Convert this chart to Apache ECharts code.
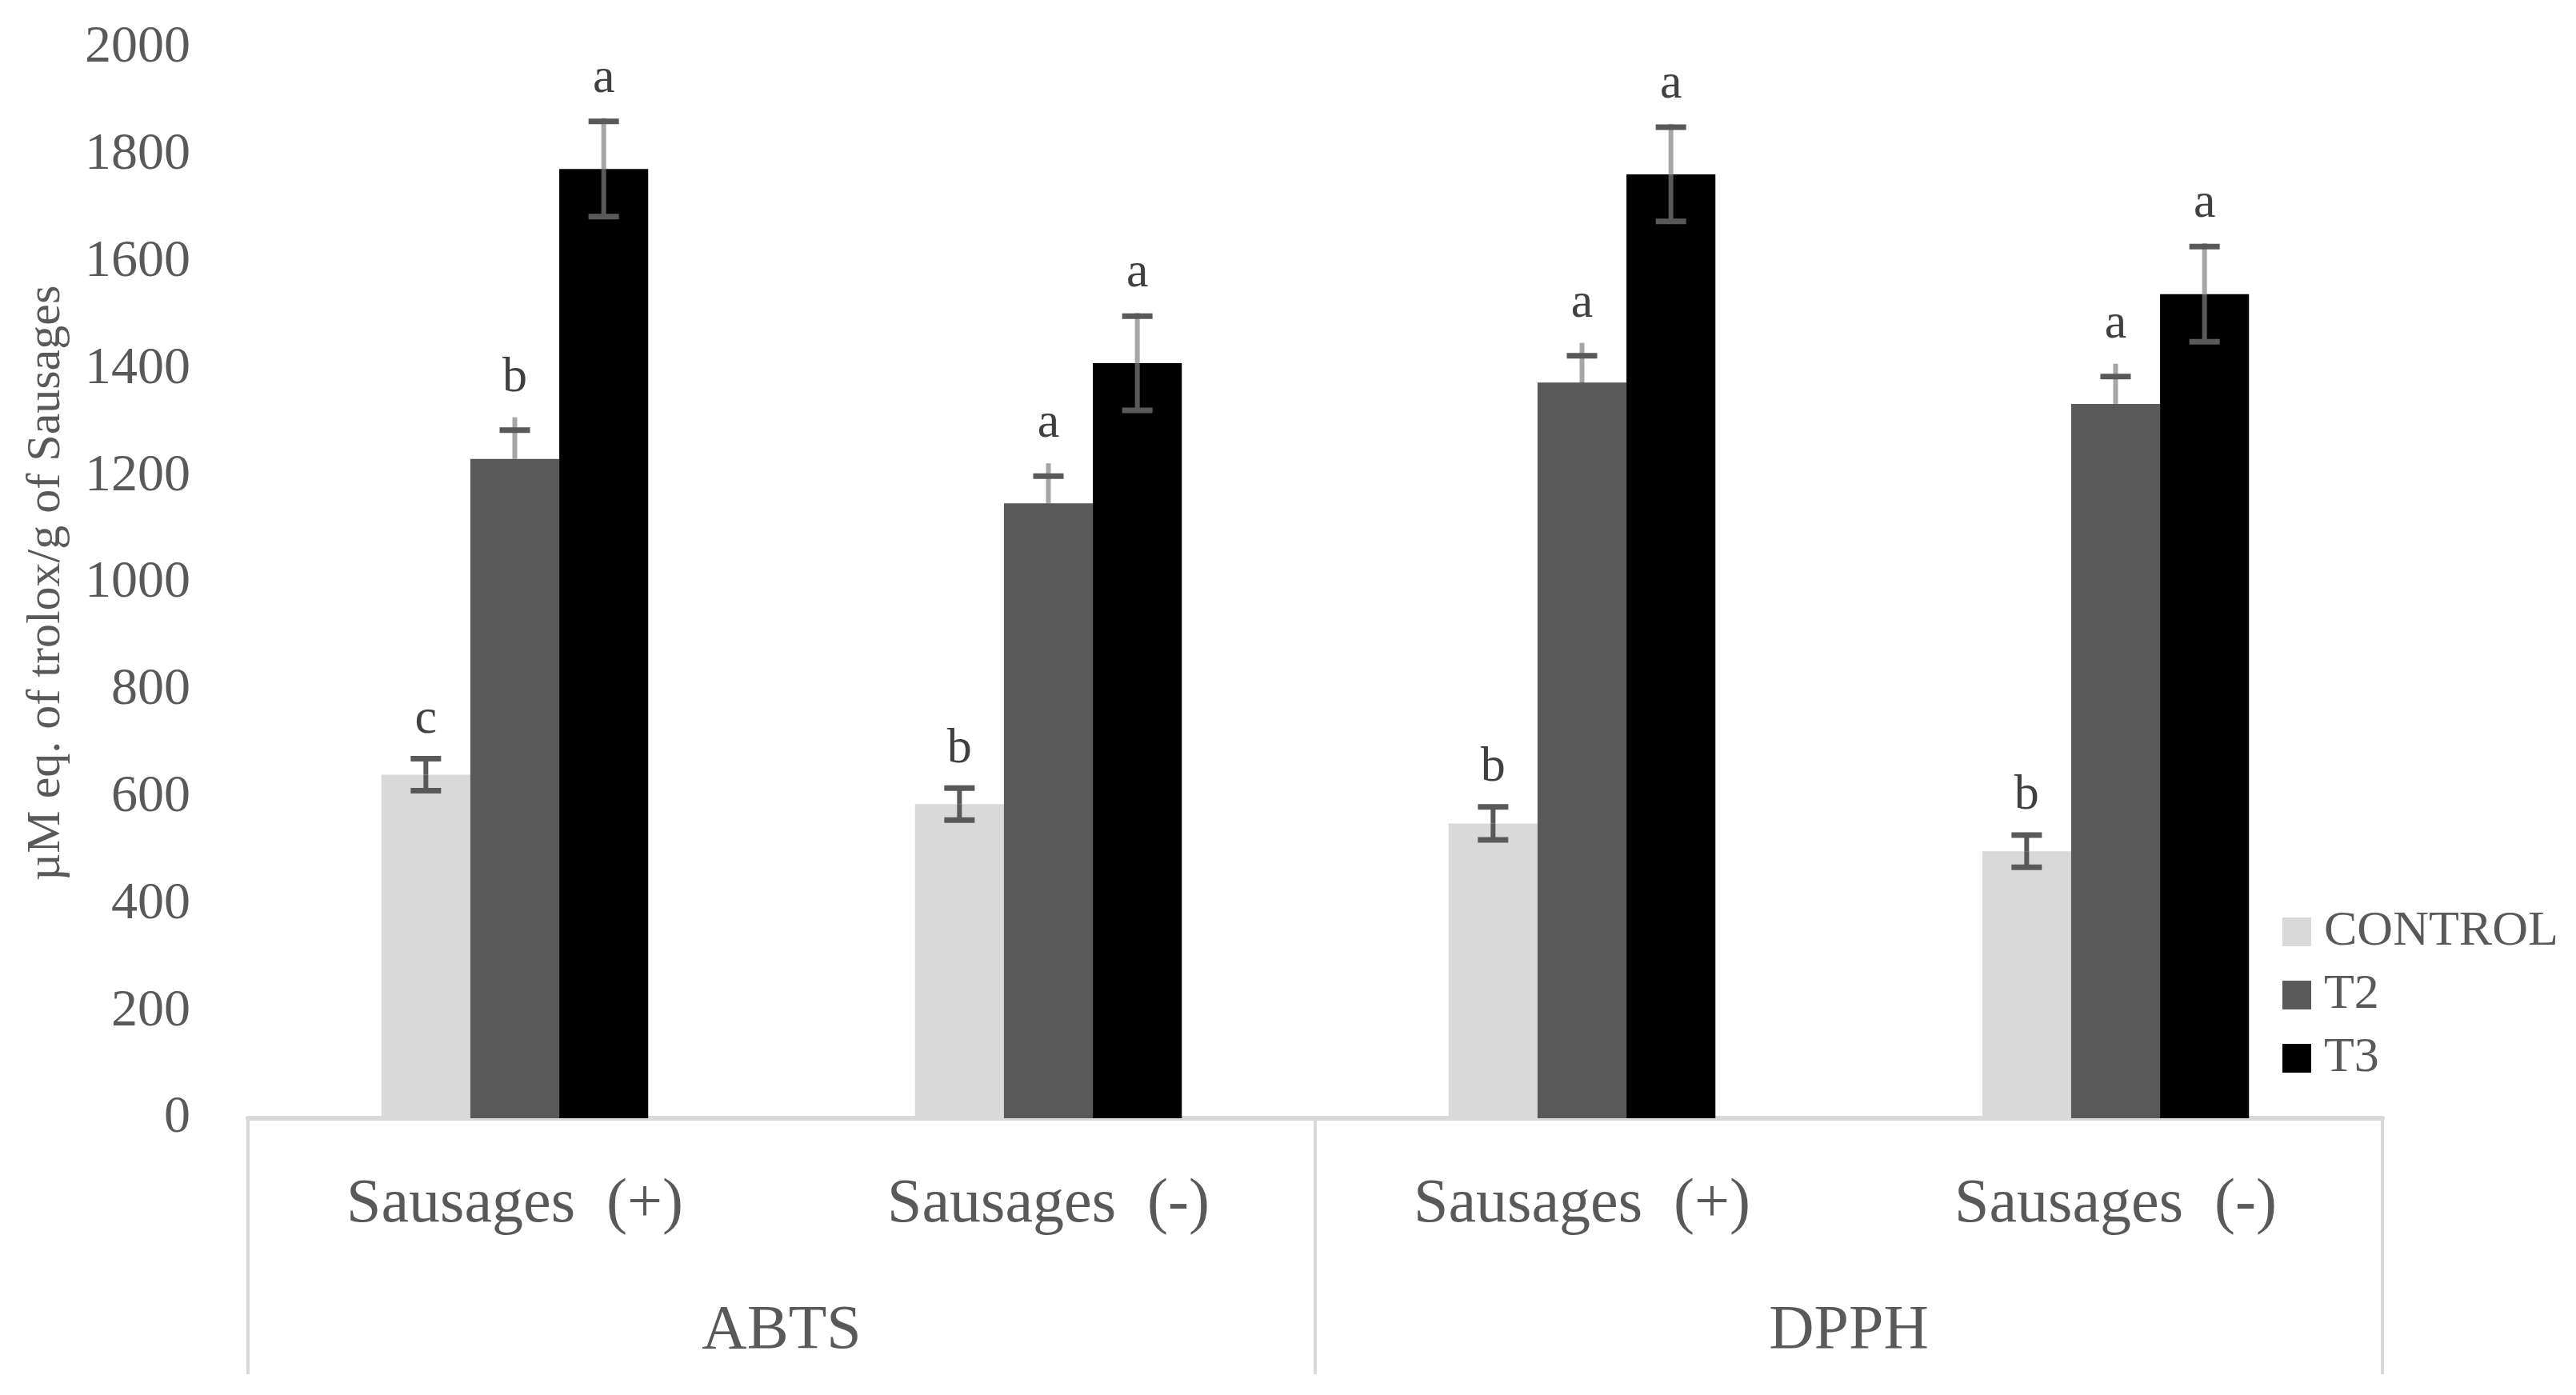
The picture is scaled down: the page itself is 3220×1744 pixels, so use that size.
<!DOCTYPE html>
<html>
<head>
<meta charset="utf-8">
<script src="https://cdn.jsdelivr.net/npm/echarts@6/dist/echarts.min.js"></script>
<style>
html,body{margin:0;padding:0;background:#fff;}
#c{width:3220px;height:1744px;}
</style>
</head>
<body>
<div id="c"></div>
<script>
const categories = ['Sausages  (+)', 'Sausages  (-)', 'Sausages  (+)', 'Sausages  (-)'];
const assays = ['ABTS', 'DPPH'];
const seriesNames = ['CONTROL', 'T2', 'T3'];
const controlValues = [642, 587, 551, 499];
const t2Values = [1232, 1149, 1375, 1335];
const t3Values = [1774, 1411, 1764, 1540];
const controlErrors = [30, 30, 31, 30];
const t2Errors = [54, 51, 50, 51];
const t3Errors = [89, 88, 88, 89];
const controlLetters = ['c', 'b', 'b', 'b'];
const t2Letters = ['b', 'a', 'a', 'a'];
const t3Letters = ['a', 'a', 'a', 'a'];
const yTicks = [0, 200, 400, 600, 800, 1000, 1200, 1400, 1600, 1800, 2000];

const FONT = 'Liberation Serif';
const TEXT = '#595959';
const colors = ['#D9D9D9', '#595959', '#000000'];
const values = [controlValues, t2Values, t3Values];
const errors = [controlErrors, t2Errors, t3Errors];
const letters = [controlLetters, t2Letters, t3Letters];
const lineColors = ['#595959', '#A6A6A6', '#A6A6A6'];
const lineExt = [0, 16, 4];

const chart = echarts.init(document.getElementById('c'));

const barSeries = seriesNames.map((n, i) => ({
  name: n,
  type: 'bar',
  data: values[i],
  itemStyle: { color: colors[i] },
  barGap: '0%',
  barCategoryGap: '50%',
  z: 2
}));

const errSeries = seriesNames.map((n, s) => ({
  type: 'custom',
  name: n + '_err',
  z: 5,
  silent: true,
  encode: { x: 0, y: 1 },
  data: values[s].map((v, i) => [i, v, errors[s][i]]),
  renderItem: function (params, api) {
    const cat = api.value(0), v = api.value(1), e = api.value(2);
    const idx = params.dataIndex;
    const c = api.coord([cat, v]);
    const catW = api.size([1, 0])[0];
    const bw = catW * 0.5 / 3;
    const x = c[0] + (s - 1) * bw;
    const yBar = c[1];
    const yTop = api.coord([cat, v + e])[1];
    const yBot = api.coord([cat, v - e])[1];
    const lineTop = yTop - lineExt[s];
    const capHalf = 19;
    return {
      type: 'group',
      children: [
        { type: 'line', shape: { x1: x, y1: yBar, x2: x, y2: yBot }, style: { stroke: '#595959', lineWidth: 6 } },
        { type: 'line', shape: { x1: x, y1: yBar, x2: x, y2: lineTop }, style: { stroke: lineColors[s], lineWidth: 6 } },
        { type: 'line', shape: { x1: x - capHalf, y1: yTop, x2: x + capHalf, y2: yTop }, style: { stroke: '#595959', lineWidth: 7 } },
        { type: 'line', shape: { x1: x - capHalf, y1: yBot, x2: x + capHalf, y2: yBot }, style: { stroke: '#595959', lineWidth: 7 } },
        { type: 'text', style: { text: letters[s][idx], x: x, y: lineTop - 49, align: 'center', verticalAlign: 'middle', font: '62px "' + FONT + '"', fill: '#404040' } }
      ]
    };
  }
}));

chart.setOption({
  animation: false,
  backgroundColor: '#ffffff',
  textStyle: { fontFamily: FONT },
  grid: { left: 310, right: 242, top: 60, bottom: 346, containLabel: false, outerBoundsMode: 'none' },
  legend: {
    data: seriesNames,
    orient: 'vertical',
    left: 2853,
    top: 1134,
    icon: 'rect',
    itemWidth: 36,
    itemHeight: 36,
    itemGap: 17,
    textStyle: { fontFamily: FONT, fontSize: 62, color: TEXT, lineHeight: 62, padding: [0, 0, 0, 11] },
    padding: 0
  },
  xAxis: [
    {
      type: 'category',
      data: categories,
      position: 'bottom',
      axisLine: { show: true, lineStyle: { color: '#D9D9D9', width: 6 } },
      axisTick: { show: false },
      axisLabel: { fontFamily: FONT, fontSize: 78, color: TEXT, margin: 70, lineHeight: 78 },
      splitLine: { show: false }
    },
    {
      type: 'category',
      data: assays,
      position: 'bottom',
      axisLine: { show: false },
      axisTick: { show: true, length: 320, lineStyle: { color: '#D9D9D9', width: 4 } },
      axisLabel: { fontFamily: FONT, fontSize: 78, color: TEXT, margin: 228, lineHeight: 78 },
      splitLine: { show: false }
    }
  ],
  yAxis: {
    type: 'value',
    min: yTicks[0],
    max: yTicks[yTicks.length - 1],
    interval: yTicks[1] - yTicks[0],
    name: 'µM eq. of trolox/g of Sausages',
    nameLocation: 'middle',
    nameGap: 222,
    nameTextStyle: { fontFamily: FONT, fontSize: 60, color: TEXT },
    axisLine: { show: false },
    axisTick: { show: false },
    splitLine: { show: false },
    axisLabel: { fontFamily: FONT, fontSize: 66, color: TEXT, margin: 72, formatter: function (v) { return String(v); } }
  },
  series: barSeries.concat(errSeries)
});
</script>
</body>
</html>
